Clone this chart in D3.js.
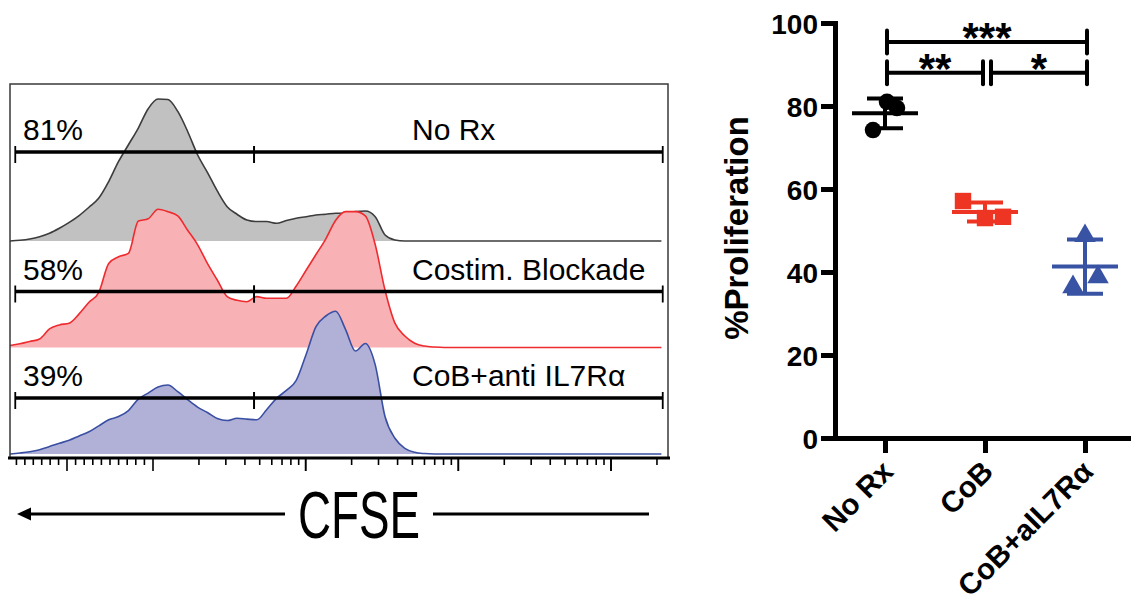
<!DOCTYPE html>
<html>
<head>
<meta charset="utf-8">
<script src="https://cdn.jsdelivr.net/npm/d3@7"></script>
<style>
  body { margin: 0; background: #fff; }
  svg { display: block; }
  text { font-family: "Liberation Sans", Arial, sans-serif; }
</style>
</head>
<body>
<svg id="fig" width="1131" height="604"></svg>
<script>
// ---------------- data ----------------
// flow histograms (normalized to mode, % of max) against display channel
const lanes = ["No Rx", "Costim. Blockade", "CoB+anti IL7R\u03b1"];
const gatePct = [81, 58, 39];
const channel = [0, 15, 30, 45, 60, 75, 90, 105, 120, 135, 150, 165, 180, 195, 210, 225, 240, 255,
  270, 285, 300, 315, 330, 345, 360, 375, 390, 405, 420, 435, 450, 465, 480, 495, 510, 525, 540,
  555, 570, 585, 600, 615, 630, 645, 660, 990];
const noRxHist = [0, 0.5, 1.4, 3, 5.4, 8.9, 13, 17.8, 23.6, 30, 41.6, 55.6, 67.3, 79, 92.5, 99.3, 99,
  90.6, 76.6, 60.3, 48, 35, 24, 18.7, 14.7, 13.6, 13.6, 12.4, 14.3, 15.9, 17, 18.2, 18.7, 19.4, 19.4,
  20.6, 21, 17, 4.2, 0.7, 0, 0, 0, 0, 0, 0];
const cobHist = [1.4, 2.6, 4.2, 6, 13, 15.8, 17, 23.5, 31.6, 38.6, 58.8, 63.5, 65.8, 88.4, 90, 96.7, 95,
  92, 82, 72, 58.8, 47.2, 35.6, 33, 32, 35.6, 34.4, 34.4, 34.4, 43, 54, 65, 76, 89, 95, 95, 92,
  72, 40, 17, 8, 3, 1, 0.3, 0, 0];
const il7Hist = [0, 0.7, 1.6, 3, 5.2, 7.5, 9.6, 12.6, 15.5, 19.7, 23.9, 26.2, 30.4, 38.4, 42.6, 46.8, 48.2,
  43.6, 38, 32.8, 29, 24.8, 23.4, 25, 24.4, 23.9, 31, 38.9, 44.5, 51.5, 69.6, 89, 96.5, 99.8, 87, 72, 77.3,
  62.5, 26, 11, 4, 1.2, 0.3, 0, 0, 0];
const hists = [noRxHist, cobHist, il7Hist];
// gate bounds in channel units
const gateBounds = [[8, 371], [371, 992]];
// CFSE axis ticks (fluorescence units)
const lowTicks = [-60, -50, -40, -30, -20, -10, 0, 10, 20, 30, 40, 50, 60, 70, 80, 90];
const decadeMajors = [100, 1000, 10000, 100000];

// % proliferation scatter
const groups = ["No Rx", "CoB", "CoB+aIL7R\u03b1"];
const noRxProlif = [81, 79.5, 74.2];
const cobProlif = [57.1, 53.0, 53.3];
const il7Prolif = [48.7, 38.8, 36.4];
const prolif = [noRxProlif, cobProlif, il7Prolif];
const yTicks = [0, 20, 40, 60, 80, 100];
const comparisons = [
  { a: 0, b: 2, label: "***", level: 95.4 },
  { a: 0, b: 1, label: "**", level: 88 },
  { a: 1, b: 2, label: "*", level: 88 }
];

// ---------------- layout ----------------
const svg = d3.select("#fig");
const font = '"Liberation Sans", Arial, sans-serif';

//////////////////// left panel ////////////////////
const box = { x0: 10, x1: 668, y0: 84, y1: 457 };
const histX = d3.scaleLinear().domain([0, 1000]).range([box.x0, box.x1]);
const laneBase = i => 241 + i * 106.5;
const histY = d3.scaleLinear().domain([0, 100]).range([0, -143]);
const gateLift = [89, 56, 56];
const fills = ["#c1c1c1", "#f8b2b5", "#b1b1d8"];
const strokes = ["#3c3c3c", "#ee2b2f", "#3a4fa2"];

const left = svg.append("g");

hists.forEach((h, i) => {
  const base = laneBase(i);
  const pts = h.map((v, j) => [channel[j], v]);
  const area = d3.area()
    .x(d => histX(d[0]))
    .y0(base)
    .y1(d => base + histY(d[1]))
    .curve(d3.curveMonotoneX);
  const line = d3.line()
    .x(d => histX(d[0]))
    .y(d => base + histY(d[1]))
    .curve(d3.curveMonotoneX);
  left.append("path").attr("d", area(pts)).attr("fill", fills[i]);
  left.append("path").attr("d", line(pts))
    .attr("fill", "none").attr("stroke", strokes[i]).attr("stroke-width", 1.6);
});

// frame
left.append("path")
  .attr("d", `M${box.x0},${box.y1}V${box.y0}H${box.x1}V${box.y1}`)
  .attr("fill", "none").attr("stroke", "#3a3a3a").attr("stroke-width", 1.5);

// gates + labels
lanes.forEach((name, i) => {
  const gy = laneBase(i) - gateLift[i];
  const g = left.append("g");
  gateBounds.forEach(([a, b]) => {
    g.append("line").attr("x1", histX(a)).attr("x2", histX(b))
      .attr("y1", gy).attr("y2", gy)
      .attr("stroke", "#000").attr("stroke-width", 3.5);
    [a, b].forEach(v => g.append("line")
      .attr("x1", histX(v)).attr("x2", histX(v))
      .attr("y1", gy - 6).attr("y2", gy + 11)
      .attr("stroke", "#000").attr("stroke-width", 1.8));
  });
  g.append("text").attr("x", 23).attr("y", gy - 12)
    .attr("font-size", 30).text(gatePct[i] + "%");
  g.append("text").attr("x", 412).attr("y", gy - 12)
    .attr("font-size", 30).text(name);
});

// CFSE axis: linear near zero, log above 100
const linPart = d3.scaleLinear().domain([-70, 0, 100]).range([8, 67, 153]);
const logPart = d3.scaleLog().domain([100, 100000]).range([153, 611]);
const cfseX = v => (v < 100 ? linPart(v) : logPart(v));
const logTicks = d3.scaleLog().domain([100, 230000]).ticks().filter(v => v > 100);
const axisY = 458;
const axisG = left.append("g");
axisG.append("line").attr("x1", 8).attr("x2", 670).attr("y1", axisY).attr("y2", axisY)
  .attr("stroke", "#000").attr("stroke-width", 3);
lowTicks.concat(decadeMajors, logTicks).forEach(v => {
  const major = v === 0 || decadeMajors.includes(v);
  axisG.append("line").attr("x1", cfseX(v)).attr("x2", cfseX(v))
    .attr("y1", axisY).attr("y2", axisY + (major ? 13 : 7))
    .attr("stroke", "#000").attr("stroke-width", 1.6);
});

// CFSE title with arrow
const arrowY = 514;
left.append("path").attr("d", `M17,${arrowY}L31,${arrowY - 6.5}L31,${arrowY + 6.5}Z`).attr("fill", "#000");
left.append("line").attr("x1", 28).attr("x2", 285).attr("y1", arrowY).attr("y2", arrowY)
  .attr("stroke", "#000").attr("stroke-width", 3);
left.append("line").attr("x1", 433).attr("x2", 649).attr("y1", arrowY).attr("y2", arrowY)
  .attr("stroke", "#000").attr("stroke-width", 3);
left.append("text").attr("x", 298).attr("y", 538)
  .attr("font-family", "Roboto, 'Liberation Sans', sans-serif").attr("font-weight", 300)
  .attr("font-size", 66).attr("textLength", 122).attr("lengthAdjust", "spacingAndGlyphs")
  .text("CFSE");

//////////////////// right panel ////////////////////
const x = d3.scalePoint().domain(groups).range([835, 1135]).padding(0.5);
const y = d3.scaleLinear().domain([0, 100]).range([438, 23]);
const colors = ["#000000", "#ee3524", "#3953a4"];
const jitter = [[2, 12, -12], [-22, 0, 18], [0, 13, -12]];
const right = svg.append("g");

// axes
const yAxis = right.append("g").attr("transform", "translate(835,0)")
  .call(d3.axisLeft(y).tickValues(yTicks).tickSize(14).tickSizeOuter(0).tickPadding(3));
const xAxis = right.append("g").attr("transform", "translate(0,438)")
  .call(d3.axisBottom(x).tickSize(15).tickSizeOuter(0));
[yAxis, xAxis].forEach(a => {
  a.select(".domain").attr("stroke-width", 5).attr("stroke-linecap", "square");
  a.selectAll(".tick line").attr("stroke-width", 5);
  a.selectAll("text").attr("font-family", font).attr("font-weight", "bold").attr("fill", "#000");
});
yAxis.selectAll("text").attr("font-size", 28).attr("dy", "0.36em");
xAxis.selectAll("text").attr("font-size", 29.5)
  .attr("text-anchor", "end").attr("x", 0).attr("y", 0).attr("dy", "0.35em")
  .attr("transform", "translate(2,28) rotate(-45)");

right.append("text")
  .attr("transform", "translate(748,228) rotate(-90)")
  .attr("text-anchor", "middle").attr("font-size", 33).attr("font-weight", "bold")
  .text("%Proliferation");

// points, mean and SD
const symbols = [d3.symbolCircle, d3.symbolSquare, d3.symbolTriangle];
const symArea = [215, 270, 200];
prolif.forEach((vals, gi) => {
  const cx = x(groups[gi]);
  const m = d3.mean(vals), sd = d3.deviation(vals);
  const col = colors[gi];
  const g = right.append("g");
  vals.forEach((v, k) => {
    g.append("path")
      .attr("d", d3.symbol(symbols[gi], symArea[gi])())
      .attr("transform", `translate(${cx + jitter[gi][k]},${y(v)})`)
      .attr("fill", col);
  });
  g.append("line").attr("x1", cx).attr("x2", cx).attr("y1", y(m - sd)).attr("y2", y(m + sd))
    .attr("stroke", col).attr("stroke-width", 4);
  [m - sd, m + sd].forEach(v => g.append("line")
    .attr("x1", cx - 18).attr("x2", cx + 18).attr("y1", y(v)).attr("y2", y(v))
    .attr("stroke", col).attr("stroke-width", 4));
  g.append("line").attr("x1", cx - 33).attr("x2", cx + 33).attr("y1", y(m)).attr("y2", y(m))
    .attr("stroke", col).attr("stroke-width", 4);
});

// significance brackets
comparisons.forEach(c => {
  const xa = x(groups[c.a]) + 2 + (c.a === 1 ? 4 : 0);
  const xb = x(groups[c.b]) + 2 - (c.b === 1 ? 4 : 0);
  const yy = y(c.level);
  const g = right.append("g").attr("stroke", "#000").attr("stroke-width", 4);
  g.append("line").attr("x1", xa).attr("x2", xb).attr("y1", yy).attr("y2", yy);
  [xa, xb].forEach(xx => g.append("line").attr("x1", xx).attr("x2", xx)
    .attr("y1", yy - 11.5).attr("y2", yy + 11.5).attr("stroke-linecap", "round"));
  right.append("text").attr("x", (xa + xb) / 2).attr("y", yy + 10)
    .attr("text-anchor", "middle").attr("font-size", 42).attr("font-weight", "bold")
    .text(c.label);
});
</script>
</body>
</html>
